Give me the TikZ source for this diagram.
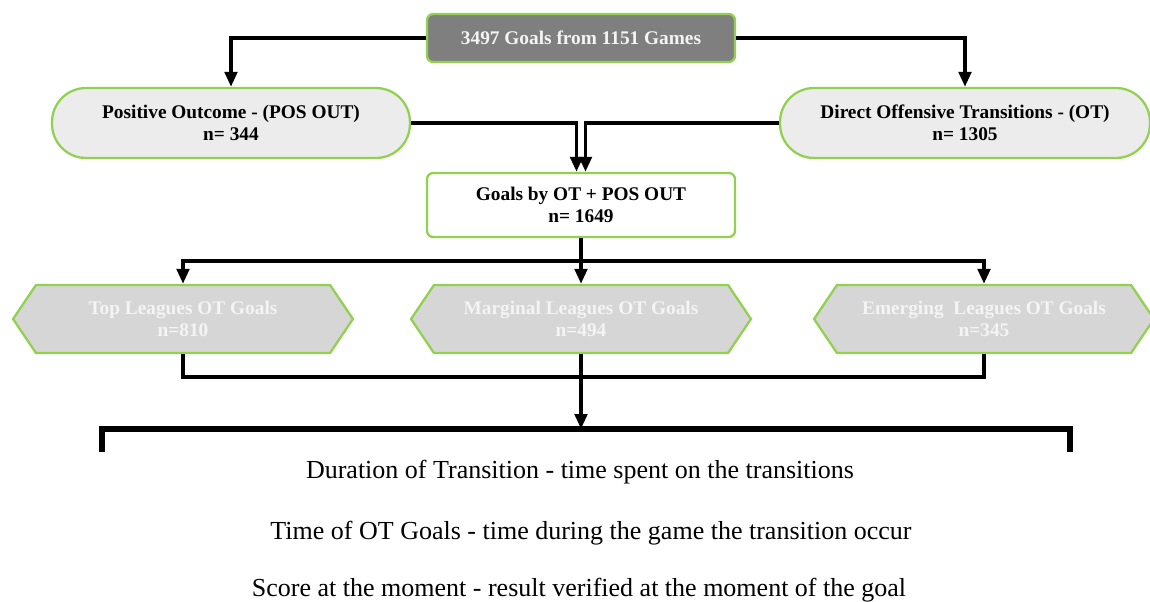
\documentclass[tikz,border=0pt]{standalone}
\usepackage{fontspec}
\setmainfont{Liberation Serif}
\usetikzlibrary{arrows.meta}
\usetikzlibrary{shapes.symbols}
\definecolor{boxgreen}{RGB}{146,208,80}
\definecolor{topgray}{RGB}{127,127,127}
\definecolor{palegray}{RGB}{236,236,236}
\definecolor{hexgray}{RGB}{214,214,214}
\definecolor{softwhite}{RGB}{244,244,244}

\begin{document}
\begin{tikzpicture}[x=0.02cm, y=-0.02cm,
	box/.style={draw=boxgreen, line width=1.3pt, align=center, inner sep=0pt, font=\fontsize{11}{12.5}\selectfont\bfseries},
	pill/.style={box, fill=palegray, rounded corners=0.68cm, minimum height=1.4cm},
	hexa/.style={box, signal, signal to=west and east, signal pointer angle=112, fill=hexgray, text=softwhite, minimum width=6.8cm, minimum height=1.36cm},
	flow/.style={line width=2.2pt, -{Triangle[length=8.5pt, width=7pt]}},
	link/.style={line width=2.2pt},
	facts/.style={font=\fontsize{14.8}{17}\selectfont}]
	\useasboundingbox (0,0) rectangle (1150,602);
	\node[box, fill=topgray, text=softwhite, rounded corners=3.5pt, minimum width=6.16cm, minimum height=0.96cm] (total) at (581,38) {3497 Goals from 1151 Games};
	\node[pill, minimum width=7.16cm] (pos) at (231,123) {Positive Outcome - (POS OUT)\\n= 344};
	\node[pill, minimum width=7.4cm] (ot) at (965,123) {Direct Offensive Transitions - (OT)\\n= 1305};
	\node[box, fill=white, rounded corners=3.5pt, minimum width=6.16cm, minimum height=1.28cm] (goals) at (581,205) {Goals by OT + POS OUT\\n= 1649};
	\node[hexa] (toplg) at (183,319) {Top Leagues OT Goals\\n=810};
	\node[hexa] (mlg) at (581,319) {Marginal Leagues OT Goals\\n=494};
	\node[hexa] (emlg) at (984,319) {Emerging \ Leagues OT Goals\\n=345};
	\draw[flow] (total.west) -| (pos.north);
	\draw[flow] (total.east) -| (ot.north);
	\draw[flow] (pos.east) -| ([xshift=-0.09cm]goals.north);
	\draw[flow] (ot.west) -| ([xshift=0.09cm]goals.north);
	\coordinate (split) at (581,261);
	\draw[link] (goals.south) -- (split);
	\draw[flow] (split) -| (toplg.north);
	\draw[flow] (split) -- (mlg.north);
	\draw[flow] (split) -| (emlg.north);
	\coordinate (join) at (581,377);
	\draw[link] (toplg.south) |- (join);
	\draw[link] (emlg.south) |- (join);
	\draw[link] (mlg.south) -- (join);
	\coordinate (bracetop) at (581,429);
	\coordinate (bl) at (102,452);
	\coordinate (br) at (1070,452);
	\draw[flow] (join) -- (bracetop);
	\draw[line width=3.5pt] (bl) |- (bracetop) -| (br);
	\node[facts] (dur) at (580,472) {Duration of Transition - time spent on the transitions};
	\node[facts] (time) at (591,533) {Time of OT Goals - time during the game the transition occur};
	\node[facts] (score) at (579,590) {Score at the moment - result verified at the moment of the goal};
\end{tikzpicture}
\end{document}
